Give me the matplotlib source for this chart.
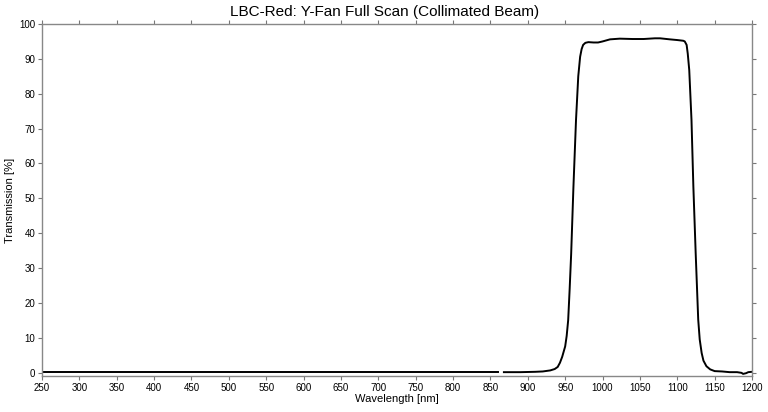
import numpy as np
import matplotlib
matplotlib.use("Agg")
import matplotlib.pyplot as plt

plt.rcParams['font.family'] = ['Liberation Sans', 'DejaVu Sans']

# Data (nm, %)
wavelength_a = [250, 300, 400, 500, 600, 700, 800, 860]
transmission_a = [0.1, 0.1, 0.1, 0.1, 0.1, 0.1, 0.1, 0.1]

wavelength_b = [868, 890, 910, 920, 930, 936, 940, 943, 946, 950, 952, 954, 956,
                958, 961, 964.5, 967.5, 970, 972, 974, 977, 981, 988, 994, 1000,
                1010, 1023, 1040, 1055, 1070, 1077, 1090, 1100, 1108, 1110,
                1112.5, 1114, 1116, 1119, 1121.5, 1124.6, 1128, 1130, 1132.6,
                1135, 1139, 1144, 1150, 1160, 1170, 1180, 1186, 1188, 1192,
                1195, 1200]
transmission_b = [0.1, 0.1, 0.2, 0.3, 0.6, 1.0, 1.6, 2.8, 4.5, 7.5, 10.5, 15, 24,
                  34, 53, 72.5, 85, 90.6, 92.8, 94, 94.6, 94.8, 94.7, 94.7, 95.0,
                  95.6, 95.8, 95.7, 95.7, 95.9, 95.9, 95.6, 95.4, 95.2, 95.0,
                  94.0, 91.5, 86.8, 72.5, 53.4, 34.3, 15.2, 9.5, 5.6, 3.4, 1.8,
                  0.9, 0.4, 0.3, 0.1, 0.1, -0.1, -0.4, -0.2, 0.1, 0.2]

xticks = list(range(250, 1201, 50))
yticks = list(range(0, 101, 10))

fig = plt.figure(figsize=(7.68, 4.12), dpi=100)
ax = fig.add_axes([0.0547, 0.0874, 0.9245, 0.8543])

ax.plot(wavelength_a, transmission_a, color='black', lw=1.4)
ax.plot(wavelength_b, transmission_b, color='black', lw=1.4)

ax.set_xlim(250, 1200)
ax.set_ylim(-1, 100)
ax.set_xticks(xticks)
ax.set_yticks(yticks)
ax.tick_params(axis='both', direction='out', length=3, width=0.8, color='#777777',
               labelsize=7, pad=2, top=True, right=True)
for s in ax.spines.values():
    s.set_color('#888888')
    s.set_linewidth(1.0)

# title is centred on the figure, not the axes
ax.set_title('LBC-Red: Y-Fan Full Scan (Collimated Beam)', fontsize=11, pad=6, x=0.482)
ax.set_xlabel('Wavelength [nm]', fontsize=8, labelpad=1)
ax.set_ylabel('Transmission [%]', fontsize=8, labelpad=3)

fig.savefig('out.png', dpi=100)
